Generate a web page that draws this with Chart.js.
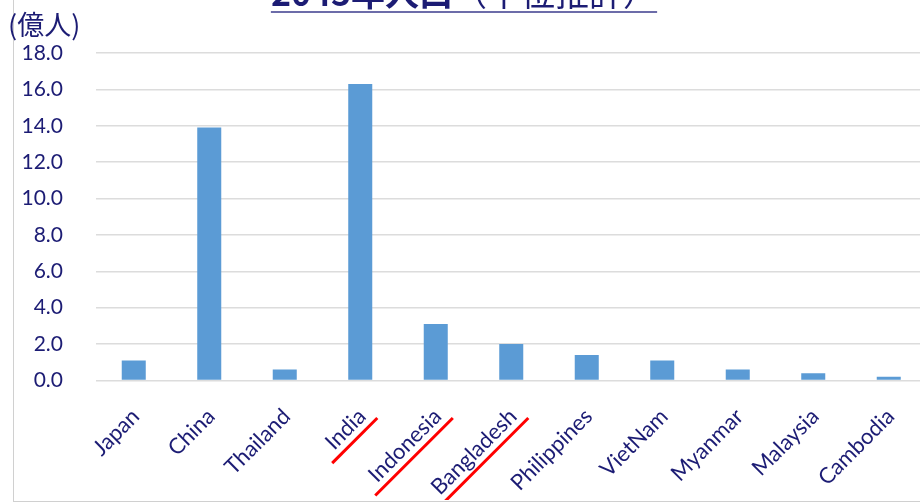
<!DOCTYPE html>
<html lang="ja">
<head>
<meta charset="utf-8">
<title>2045年人口（中位推計）</title>
<script src="https://cdn.jsdelivr.net/npm/chart.js@4/dist/chart.umd.min.js"></script>
<style>
  html, body { margin: 0; padding: 0; background: #fff; overflow: hidden; }
  #stage { position: relative; width: 920px; height: 502px; overflow: hidden; }
  #frame {
    position: absolute; left: 13px; top: -10px; width: 1000px; height: 512px;
    box-sizing: border-box; border: 1px solid #d0d0d0;
  }
  #chartBox { position: absolute; left: 0; top: 0; width: 940px; height: 502px; }
</style>
</head>
<body>
<div id="stage">
  <div id="frame"></div>
  <div id="chartBox"><canvas id="popChart"></canvas></div>
</div>
<script>
// ── data ────────────────────────────────────────────────
const countries = ['Japan', 'China', 'Thailand', 'India', 'Indonesia', 'Bangladesh',
                   'Philippines', 'VietNam', 'Myanmar', 'Malaysia', 'Cambodia'];
const population2045 = [1.1, 13.9, 0.6, 16.3, 3.1, 2.0, 1.4, 1.1, 0.6, 0.4, 0.2]; // 億人
const yMin = 0;
const yMax = 18;
const yStep = 2;
const markedCountries = ['India', 'Indonesia', 'Bangladesh'];
const titleMain = '2045年人口';
const titleSub = '（中位推計）';
const unitLabel = '(億人)';

// ── look ────────────────────────────────────────────────
const NAVY = '#1c1c74';
const BAR = '#5b9bd5';
const GRID = '#dcdcdc';
const LATIN = "Lato, 'Open Sans', sans-serif";
const CJK = "'Noto Sans CJK JP', 'Noto Sans CJK SC', sans-serif";
const X_FONT = 22;
const X_PAD = 23;
const X_SHIFT = 2;
const ROT = -Math.PI / 4;

// title (partly above the top edge) + unit label
const headerPlugin = {
  id: 'header',
  afterDraw(chart) {
    const { ctx } = chart;
    ctx.save();
    ctx.fillStyle = NAVY;
    ctx.textBaseline = 'alphabetic';
    ctx.font = `bold 34px ${CJK}`;
    const w1 = ctx.measureText(titleMain).width;
    ctx.font = `34px ${CJK}`;
    const w2 = ctx.measureText(titleSub).width;
    const x0 = 464 - (w1 + w2) / 2;
    ctx.font = `bold 34px ${CJK}`;
    ctx.fillText(titleMain, x0, 6);
    ctx.font = `34px ${CJK}`;
    ctx.fillText(titleSub, x0 + w1, 6);
    ctx.strokeStyle = '#3b3b8c';
    ctx.lineWidth = 1.5;
    ctx.beginPath();
    ctx.moveTo(x0, 12);
    ctx.lineTo(x0 + w1 + w2, 12);
    ctx.stroke();

    ctx.font = `27px ${CJK}`;
    ctx.textBaseline = 'middle';
    ctx.fillText(unitLabel, 8, 25);
    ctx.restore();
  },
};

// red strokes under selected rotated country labels,
// laid out in the same rotated frame Chart.js uses for the tick labels
const markPlugin = {
  id: 'marks',
  afterDraw(chart) {
    const { ctx } = chart;
    const xs = chart.scales.x;
    const lh = X_FONT * 1.2;
    ctx.save();
    ctx.beginPath();
    ctx.rect(0, 0, chart.width, 500);
    ctx.clip();
    ctx.font = `${X_FONT}px ${LATIN}`;
    ctx.strokeStyle = '#ff0000';
    ctx.lineWidth = 3;
    markedCountries.forEach(name => {
      const i = countries.indexOf(name);
      const w = ctx.measureText(name).width;
      const ax = xs.getPixelForValue(i) + X_SHIFT + (lh / 2) * Math.sin(ROT);
      const ay = xs.top + X_PAD;
      const v = 27.5;
      ctx.save();
      ctx.translate(ax, ay);
      ctx.rotate(ROT);
      ctx.beginPath();
      ctx.moveTo(7, v);
      ctx.lineTo(-(w + 10), v);
      ctx.stroke();
      ctx.restore();
    });
    ctx.restore();
  },
};

new Chart(document.getElementById('popChart'), {
  type: 'bar',
  data: {
    labels: countries,
    datasets: [{
      data: population2045,
      backgroundColor: BAR,
      borderWidth: 0,
      barPercentage: 0.318,
      categoryPercentage: 1.0,
    }],
  },
  options: {
    responsive: true,
    maintainAspectRatio: false,
    animation: false,
    layout: { padding: { top: 53, right: 13.5, left: 0, bottom: 0 } },
    plugins: {
      legend: { display: false },
      tooltip: { enabled: false },
    },
    scales: {
      x: {
        grid: { display: false, drawTicks: false },
        border: { display: false },
        ticks: {
          color: NAVY,
          font: { family: LATIN, size: X_FONT },
          minRotation: 45,
          maxRotation: 45,
          autoSkip: false,
          padding: X_PAD,
          labelOffset: X_SHIFT,
        },
        afterFit(scale) { scale.height = 121.5; },
      },
      y: {
        min: yMin,
        max: yMax,
        grid: { color: GRID, lineWidth: 1.5, drawTicks: false },
        border: { display: false },
        ticks: {
          stepSize: yStep,
          color: NAVY,
          font: { family: LATIN, size: 21 },
          padding: 33,
          callback: v => v.toFixed(1),
        },
        afterFit(scale) { scale.width = 96; },
      },
    },
  },
  plugins: [headerPlugin, markPlugin],
});
</script>
</body>
</html>
